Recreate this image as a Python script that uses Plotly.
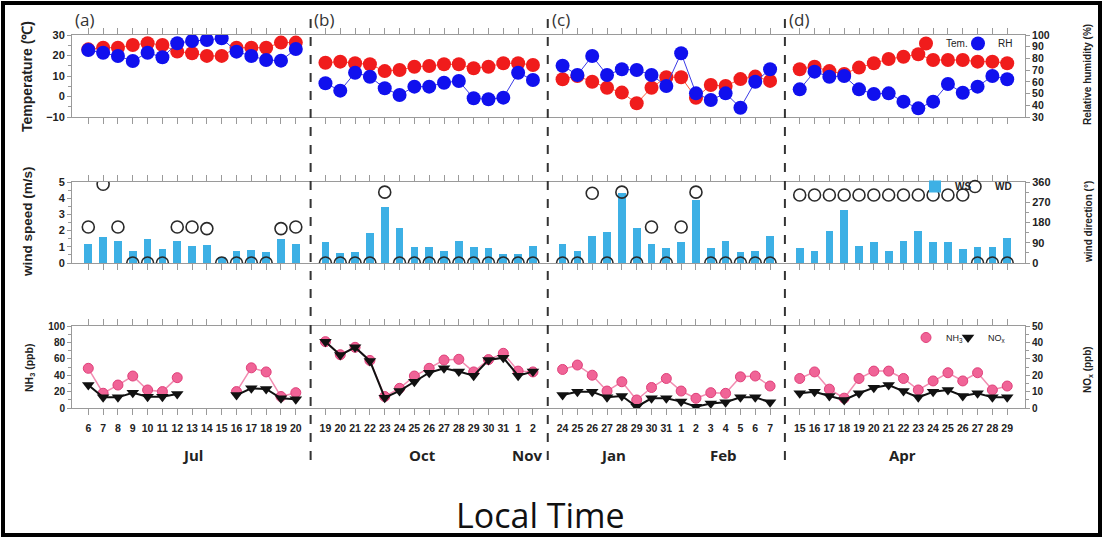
import plotly.graph_objects as go

# ---------------- data ----------------
jul_days = list(range(6, 21))
oct_days = [19, 20, 21, 22, 23, 24, 25, 26, 27, 28, 29, 30, 31, 1, 2]
jan_days = [24, 25, 26, 27, 28, 29, 30, 31, 1, 2, 3, 4, 5, 6, 7]
apr_days = list(range(15, 30))

temp_jul = [23, 23.8, 23.8, 25.1, 26.0, 25.1, 21.9, 21.1, 19.8, 19.8, 23.8, 23.8, 23.8, 26.3, 26.3]
temp_oct = [16.5, 17.0, 16.2, 15.7, 12.4, 12.9, 14.5, 14.9, 15.7, 15.7, 13.8, 14.5, 16.2, 16.2, 15.4]
temp_jan = [8.4, 10.0, 7.2, 4.3, 1.9, -3.3, 4.3, 9.4, 9.4, -0.6, 5.6, 5.1, 8.5, 9.7, 7.6]
temp_apr = [13.3, 14.5, 12.4, 11.0, 14.1, 16.2, 18.3, 19.4, 20.6, 17.8, 17.8, 17.8, 17.0, 17.0, 16.2]

rh_jul = [87.2, 84.9, 82.1, 77.8, 84.9, 81.0, 92.9, 94.9, 95.7, 97.2, 85.8, 82.1, 78.7, 78.1, 88.0]
rh_oct = [58.8, 52.5, 67.8, 64.4, 54.5, 48.8, 55.9, 55.9, 59.3, 60.7, 46.0, 45.1, 46.5, 67.8, 61.6]
rh_jan = [73.8, 65.9, 82.1, 65.9, 70.7, 70.1, 65.9, 56.5, 84.4, 50.2, 44.5, 50.2, 37.9, 60.1, 70.7]
rh_apr = [53.6, 68.7, 64.4, 65.0, 53.6, 49.6, 50.2, 43.1, 37.4, 43.1, 58.2, 50.7, 55.9, 65.0, 62.2]

ws_jul = [1.2, 1.6, 1.36, 0.76, 1.48, 0.86, 1.36, 1.07, 1.1, 0.4, 0.76, 0.8, 0.7, 1.48, 1.15]
ws_oct = [1.3, 0.6, 0.7, 1.83, 3.48, 2.14, 1.0, 1.0, 0.74, 1.38, 0.97, 0.9, 0.55, 0.55, 1.05]
ws_jan = [1.17, 0.76, 1.67, 1.9, 4.3, 2.18, 1.17, 0.9, 1.28, 3.89, 0.9, 1.38, 0.7, 0.74, 1.67]
ws_apr = [0.9, 0.76, 1.98, 3.27, 1.05, 1.28, 0.76, 1.36, 1.98, 1.28, 1.28, 0.85, 0.97, 0.97, 1.56]

wd_jul = [160, 350, 160, 0, 0, 0, 160, 160, 153, 0, 0, 0, 0, 153, 160]
wd_oct = [0, 0, 0, 0, 315, 0, 0, 0, 0, 0, 0, 0, 0, 0, 0]
wd_jan = [0, 0, 310, 0, 315, 0, 160, 0, 160, 315, 0, 0, 0, 0, 0]
wd_apr = [302, 302, 302, 302, 302, 302, 302, 302, 302, 302, 302, 302, 0, 0, 0]

nh3_jul = [48.4, 18, 28, 39, 22, 20, 37, None, None, None, 20, 49, 44, 14, 18.7]
nh3_oct = [80.9, 65, 74, 58, 14, 24, 39, 48.4, 58.5, 59.4, 44, 59, 66.7, 45, 44]
nh3_jan = [47, 52.4, 40, 20.7, 32, 9.8, 25, 36, 20.7, 11.8, 18.7, 17.9, 38, 39, 26.8]
nh3_apr = [36, 44, 23, 12, 36, 45, 45, 36, 22, 33, 43, 33, 43, 22, 26.8]

nox_jul = [14, 6.5, 6.5, 9.3, 6.9, 6.9, 8.5, None, None, None, 7.9, 12, 11.6, 5.9, 5.3]
nox_oct = [40.4, 32.3, 37, 28.7, 6.3, 10.4, 16, 21.5, 24.2, 22.2, 19.7, 29.3, 30.7, 19.7, 22.2]
nox_jan = [7.9, 9.9, 9.9, 6.5, 7.3, 0.8, 5.9, 5.9, 3.9, 0.8, 2.8, 3.5, 6.5, 6.5, 3.5]
nox_apr = [9, 9.9, 7.3, 4.9, 9, 12.4, 14, 10.4, 6.5, 9.9, 11, 7.3, 9, 6.5, 6.5]

period_labels = ["(a)", "(b)", "(c)", "(d)"]
month_labels = ["Jul", "Oct", "Nov", "Jan", "Feb", "Apr"]

# ---------------- derived ----------------
periods = [jul_days, oct_days, jan_days, apr_days]
step = len(jul_days) + 1
xpos = [p * step + i for p, days in enumerate(periods) for i in range(len(days))]
xtext = [str(d) for days in periods for d in days]


def joined(series_list):
    return [v for s in series_list for v in s]


def broken(series_list):
    """x / y lists with a gap (None) between periods so lines do not join panels."""
    xs, ys = [], []
    for p, s in enumerate(series_list):
        xs += [p * step + i for i in range(len(s))] + [None]
        ys += list(s) + [None]
    return xs, ys


temp_s = [temp_jul, temp_oct, temp_jan, temp_apr]
rh_s = [rh_jul, rh_oct, rh_jan, rh_apr]
nh3_s = [nh3_jul, nh3_oct, nh3_jan, nh3_apr]
nox_s = [nox_jul, nox_oct, nox_jan, nox_apr]
ws = joined([ws_jul, ws_oct, ws_jan, ws_apr])
wd = joined([wd_jul, wd_oct, wd_jan, wd_apr])

# pixel geometry helpers
W, H = 1105, 539
ML, MR, MT, MB = 72, 80, 35, 131
PW, PH = W - ML - MR, H - MT - MB


def xp(px):
    return (px - ML) / PW


def yp(py):
    return (H - MB - py) / PH


RED = "#f01c1c"
BLUE = "#1010ee"
BAR = "#3db0e5"
PINK = "#f06497"
AX = "#9a9a9a"
TXT = "#222222"
FONT = "Liberation Sans, Arial, sans-serif"

fig = go.Figure()

# --- panel 1: temperature & RH ---
lx, ly = broken(temp_s)
fig.add_trace(go.Scatter(x=lx, y=ly, mode="lines", line=dict(color="#ff5a3c", width=1),
                         xaxis="x3", yaxis="y", showlegend=False))
fig.add_trace(go.Scatter(x=xpos, y=joined(temp_s), mode="markers", name="Tem.",
                         marker=dict(color=RED, size=14, line=dict(width=0)),
                         xaxis="x3", yaxis="y", legend="legend"))
lx, ly = broken(rh_s)
fig.add_trace(go.Scatter(x=lx, y=ly, mode="lines", line=dict(color="#3a3ae6", width=1),
                         xaxis="x3", yaxis="y2", showlegend=False))
fig.add_trace(go.Scatter(x=xpos, y=joined(rh_s), mode="markers", name="RH",
                         marker=dict(color=BLUE, size=14, line=dict(width=0)),
                         xaxis="x3", yaxis="y2", legend="legend2"))

# --- panel 2: wind ---
fig.add_trace(go.Bar(x=xpos, y=ws, width=0.52, name="WS", marker=dict(color=BAR, line=dict(width=0)),
                     xaxis="x2", yaxis="y3", legend="legend3"))
fig.add_trace(go.Scatter(x=xpos, y=wd, mode="markers", name="WD",
                         marker=dict(symbol="circle-open", size=12, color="#2a2a2a", line=dict(width=1.6)),
                         xaxis="x2", yaxis="y4", legend="legend4"))

# --- panel 3: NH3 & NOx ---
lx, ly = broken(nh3_s)
fig.add_trace(go.Scatter(x=lx, y=ly, mode="lines", line=dict(color="#f28cb1", width=1.5),
                         xaxis="x", yaxis="y5", showlegend=False))
fig.add_trace(go.Scatter(x=xpos, y=joined(nh3_s), mode="markers", name="NH<sub>3</sub>",
                         marker=dict(color=PINK, size=10, line=dict(color="#e0407a", width=1)),
                         xaxis="x", yaxis="y5", legend="legend5"))
lx, ly = broken(nox_s)
fig.add_trace(go.Scatter(x=lx, y=ly, mode="lines", line=dict(color="#111111", width=2),
                         xaxis="x", yaxis="y6", showlegend=False))
fig.add_trace(go.Scatter(x=xpos, y=joined(nox_s), mode="markers", name="NO<sub>x</sub>",
                         marker=dict(symbol="triangle-down", color="#111111", size=11, line=dict(width=0)),
                         xaxis="x", yaxis="y6", legend="legend6"))

xrange = [-1.1, xpos[-1] + 1.2]
common_x = dict(range=xrange, showline=True, linecolor=AX, linewidth=1, mirror="ticks",
                ticks="outside", ticklen=6, tickcolor=AX, tickvals=xpos, showgrid=False,
                zeroline=False, fixedrange=True, automargin=False)
common_y = dict(showline=True, linecolor=AX, linewidth=1, ticks="outside", ticklen=4,
                tickcolor=AX, showgrid=False, zeroline=False, automargin=False, fixedrange=True,
                tickfont=dict(family=FONT, size=11, color=TXT, weight="bold"))

d1 = [yp(117), yp(35)]
d2 = [yp(263), yp(182)]
d3 = [yp(408), yp(326)]


def leg(px_left, py_top, size=10, bold=False):
    return dict(x=xp(px_left), y=yp(py_top), xanchor="left", yanchor="top", orientation="h",
                bgcolor="rgba(0,0,0,0)", borderwidth=0, itemwidth=30,
                font=dict(family=FONT, size=size, color=TXT, weight="bold" if bold else "normal"))


fig.update_layout(
    width=W, height=H,
    margin=dict(l=ML, r=MR, t=MT, b=MB, autoexpand=False),
    paper_bgcolor="white", plot_bgcolor="white",
    bargap=0,
    xaxis=dict(common_x, anchor="y5", ticktext=xtext, tickangle=0, ticklabelstandoff=4,
               tickfont=dict(family=FONT, size=10.5, color=TXT, weight="bold")),
    xaxis2=dict(common_x, anchor="y3", showticklabels=False, matches="x"),
    xaxis3=dict(common_x, anchor="y", showticklabels=False, matches="x"),
    yaxis=dict(common_y, domain=d1, range=[-10, 30], tickvals=[-10, 0, 10, 20, 30], anchor="x3",
               minor=dict(ticks="outside", ticklen=3, dtick=5, tickcolor=AX)),
    yaxis2=dict(common_y, overlaying="y", side="right", anchor="x3", range=[30, 100],
                tickvals=list(range(30, 101, 10)),
                tickfont=dict(family=FONT, size=10.5, color=TXT, weight="bold")),
    yaxis3=dict(common_y, domain=d2, range=[0, 5], tickvals=[0, 1, 2, 3, 4, 5], anchor="x2",
                minor=dict(ticks="outside", ticklen=3, dtick=0.5, tickcolor=AX)),
    yaxis4=dict(common_y, overlaying="y3", side="right", anchor="x2", range=[0, 360],
                tickvals=[0, 90, 180, 270, 360],
                minor=dict(ticks="outside", ticklen=3, dtick=45, tickcolor=AX)),
    yaxis5=dict(common_y, domain=d3, range=[0, 100], tickvals=[0, 20, 40, 60, 80, 100], anchor="x",
                tickfont=dict(family=FONT, size=10, color=TXT, weight="bold"),
                minor=dict(ticks="outside", ticklen=3, dtick=10, tickcolor=AX)),
    yaxis6=dict(common_y, overlaying="y5", side="right", anchor="x", range=[0, 50],
                tickvals=[0, 10, 20, 30, 40, 50],
                tickfont=dict(family=FONT, size=10, color=TXT, weight="bold"),
                minor=dict(ticks="outside", ticklen=3, dtick=5, tickcolor=AX)),
    legend=leg(906, 29),
    legend2=leg(958, 29),
    legend3=leg(915, 172, bold=True),
    legend4=leg(955, 172, bold=True),
    legend5=leg(906, 323, size=9),
    legend6=leg(948, 323, size=9),
)

annotations = []
# panel labels
for i, lab in enumerate(period_labels):
    px = [73, 312, 550, 787][i]
    annotations.append(dict(text=lab, x=xp(px), y=yp(20), xref="paper", yref="paper",
                            xanchor="left", yanchor="middle", showarrow=False,
                            font=dict(family="Open Sans, sans-serif", size=17, color="#333333")))
# month labels
for lab, px in zip(month_labels, [192, 422, 527, 613, 723, 902]):
    annotations.append(dict(text=lab, x=xp(px), y=yp(455), xref="paper", yref="paper",
                            xanchor="center", yanchor="middle", showarrow=False,
                            font=dict(family="Open Sans, sans-serif", size=15, color=TXT, weight="bold")))
# axis titles
left_titles = [("Temperature (℃)", 77, 14, 27), ("wind speed (m/s)", 222, 13.5, 27),
               ("NH<sub>3</sub> (ppb)", 368, 10.5, 30)]
for t, py, fs, px in left_titles:
    annotations.append(dict(text=t, x=xp(px), y=yp(py), xref="paper", yref="paper",
                            xanchor="center", yanchor="middle", textangle=-90, showarrow=False,
                            font=dict(family=FONT, size=fs, color=TXT, weight="bold")))
right_titles = [("Relative humidity (%)", 75, 10), ("wind direction (°)", 222, 10),
                ("NO<sub>x</sub> (ppb)", 370, 10)]
for t, py, fs in right_titles:
    annotations.append(dict(text=t, x=xp(1088), y=yp(py), xref="paper", yref="paper",
                            xanchor="center", yanchor="middle", textangle=-90, showarrow=False,
                            font=dict(family=FONT, size=fs, color=TXT, weight="bold")))
annotations.append(dict(text="Local Time", x=xp(540), y=yp(515), xref="paper", yref="paper",
                        xanchor="center", yanchor="middle", showarrow=False,
                        font=dict(family="Open Sans, sans-serif", size=34, color="#111111")))

shapes = []
for p in range(1, len(periods)):
    xd = p * step - 1
    shapes.append(dict(type="line", xref="x", yref="paper", x0=xd, x1=xd, y0=yp(460), y1=yp(10),
                       line=dict(color="#333333", width=2, dash="dash")))
shapes.append(dict(type="rect", xref="paper", yref="paper", x0=xp(3), x1=xp(1100), y0=yp(535), y1=yp(3),
                   line=dict(color="black", width=4)))

fig.update_layout(annotations=annotations, shapes=shapes)

fig.write_html("out.html",
               config={"displayModeBar": False, "staticPlot": True},
               post_script="document.body.style.margin='0px';document.body.style.padding='0px';"
                           "document.body.style.overflow='hidden';")
